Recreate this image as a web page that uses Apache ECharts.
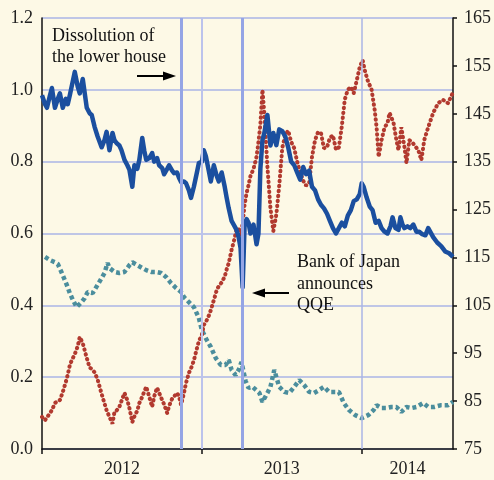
<!DOCTYPE html>
<html>
<head>
<meta charset="utf-8">
<script src="https://cdn.jsdelivr.net/npm/echarts@6/dist/echarts.min.js"></script>
<style>
  html, body { margin: 0; padding: 0; background: #fdf9e6; }
  #chart { width: 494px; height: 480px; }
</style>
</head>
<body>
<div id="chart"></div>
<script>
// x values are years since 1 Jan 2012
const blueT = [0,.019,.031,.050,.062,.081,.099,.112,.130,.149,.161,.174,.186,.205,.224,.236,.255,.280,.298,.311,
  .329,.348,.373,.391,.404,.422,.441,.453,.466,.484,.497,.516,.534,.547,.565,.578,.596,.609,.627,.640,
  .652,.671,.689,.702,.720,.733,.752,.764,.783,.795,.814,.826,.845,.857,.870,.888,.901,.919,.932,.950,
  .969,.981,1.000,1.012,1.025,1.043,1.056,1.075,1.093,1.106,1.124,1.143,1.155,1.168,1.186,1.205,1.217,1.230,1.242,1.255,
  1.267,1.280,1.292,1.304,1.323,1.342,1.354,1.366,1.379,1.391,1.410,1.429,1.447,1.466,1.484,1.503,1.522,1.540,1.559,1.578,
  1.596,1.615,1.634,1.652,1.671,1.689,1.708,1.727,1.745,1.764,1.783,1.801,1.820,1.839,1.857,1.876,1.894,1.913,1.932,1.950,
  1.969,1.988,2.000,2.012,2.031,2.050,2.068,2.087,2.106,2.124,2.143,2.161,2.180,2.193,2.211,2.230,2.242,2.255,2.267,2.286,
  2.304,2.323,2.342,2.360,2.379,2.398,2.416,2.447,2.472,2.497,2.522,2.547,2.571];
const blueV = [0.985,0.96,0.95,0.985,1.005,0.95,0.975,0.99,0.95,0.975,0.96,0.985,0.98,1.05,1.008,0.99,1.03,0.95,0.935,0.93,
  0.897,0.87,0.84,0.86,0.883,0.832,0.88,0.86,0.852,0.845,0.832,0.805,0.79,0.777,0.73,0.79,0.78,0.805,0.866,0.83,
  0.805,0.81,0.824,0.80,0.81,0.79,0.782,0.765,0.78,0.79,0.775,0.768,0.77,0.755,0.743,0.745,0.74,0.72,0.699,0.73,
  0.77,0.796,0.80,0.832,0.815,0.775,0.745,0.79,0.76,0.745,0.77,0.73,0.70,0.67,0.635,0.62,0.61,0.59,0.56,0.45,
  0.62,0.64,0.63,0.60,0.625,0.57,0.60,0.78,0.86,0.88,0.93,0.845,0.88,0.846,0.89,0.885,0.87,0.84,0.80,0.79,
  0.77,0.75,0.785,0.765,0.775,0.73,0.72,0.695,0.68,0.67,0.655,0.635,0.615,0.60,0.615,0.63,0.62,0.65,0.665,0.69,
  0.695,0.71,0.74,0.73,0.70,0.675,0.665,0.63,0.635,0.615,0.605,0.60,0.62,0.645,0.615,0.61,0.645,0.625,0.615,0.62,
  0.615,0.625,0.605,0.605,0.598,0.595,0.615,0.59,0.575,0.565,0.55,0.545,0.535];

const redT = [0,.019,.031,.050,.062,.081,.099,.112,.130,.149,.161,.174,.186,.205,.224,.236,.255,.280,.298,.311,
  .329,.348,.373,.391,.404,.422,.441,.453,.466,.484,.497,.516,.534,.547,.565,.578,.596,.609,.627,.640,
  .652,.671,.689,.702,.720,.733,.752,.764,.783,.795,.814,.826,.845,.857,.870,.888,.901,.919,.932,.950,
  .969,.981,1.000,1.012,1.025,1.043,1.056,1.075,1.093,1.106,1.124,1.143,1.155,1.168,1.186,1.205,1.217,1.230,1.242,1.255,
  1.267,1.280,1.292,1.304,1.323,1.342,1.354,1.366,1.379,1.391,1.410,1.429,1.447,1.466,1.484,1.503,1.522,1.540,1.559,1.578,
  1.596,1.615,1.634,1.652,1.671,1.689,1.708,1.727,1.745,1.764,1.783,1.801,1.820,1.839,1.857,1.876,1.894,1.913,1.932,1.950,
  1.969,1.988,2.006,2.019,2.037,2.062,2.081,2.093,2.106,2.124,2.143,2.161,2.174,2.199,2.217,2.230,2.248,2.267,2.280,2.298,
  2.317,2.329,2.354,2.373,2.391,2.416,2.447,2.478,2.509,2.540,2.571];
const redV = [81.7,81.0,81.3,82.5,83.1,84.6,85.0,85.2,86.9,89.0,90.5,92.5,93.5,94.8,96.5,98.4,97.1,94.0,92.0,91.7,
  91.0,89.5,86.5,84.5,83.1,81.7,80.3,82.7,83.0,83.8,85.0,86.7,85.2,83.5,80.6,81.8,83.0,84.6,85.9,87.0,
  88.0,85.9,83.8,86.0,87.8,86.7,85.2,84.3,82.5,84.0,85.5,85.9,86.7,86.0,84.2,86.7,88.8,90.9,91.8,93.5,
  96.0,97.5,98.8,100.9,101.5,102.8,104.0,106.1,108.2,109.0,109.8,111.0,112.5,113.8,116.6,119.0,121.0,121.0,119.7,122.0,
  126.0,128.5,130.1,132.0,133.5,136.0,139.1,142.7,150.0,145.0,134.0,125.3,120.5,124.0,130.0,137.9,140.6,141.5,139.1,137.8,
  135.0,132.8,131.0,130.0,130.5,136.0,139.5,141.2,141.0,137.8,138.0,140.0,140.5,137.5,138.0,142.5,148.0,150.0,150.6,149.3,
  152.0,154.8,156.2,154.1,152.0,150.0,145.8,142.2,136.0,139.5,142.2,143.0,145.2,143.1,139.5,137.4,142.2,138.1,134.7,139.5,
  139.0,138.9,137.4,135.3,139.5,142.2,145.2,147.2,147.9,147.2,149.5];

const tealT = [.019,.050,.081,.099,.124,.155,.174,.193,.217,.248,.267,.286,.317,.348,.373,.391,.410,.422,.453,.484,
  .516,.547,.565,.596,.627,.652,.683,.714,.745,.776,.807,.839,.870,.888,.919,.950,.981,1.000,1.031,1.056,
  1.087,1.118,1.149,1.168,1.186,1.211,1.230,1.248,1.273,1.292,1.317,1.360,1.379,1.410,1.429,1.453,1.484,1.516,1.547,1.578,
  1.609,1.640,1.671,1.702,1.733,1.764,1.795,1.826,1.857,1.888,1.919,1.957,2.000,2.043,2.075,2.093,2.124,2.155,2.186,2.217,
  2.248,2.280,2.311,2.342,2.385,2.416,2.453,2.497,2.540,2.571];
const tealV = [0.535,0.526,0.52,0.515,0.49,0.457,0.434,0.415,0.395,0.409,0.42,0.437,0.434,0.457,0.476,0.49,0.518,0.504,0.493,0.49,
  0.493,0.512,0.52,0.512,0.504,0.498,0.493,0.493,0.49,0.479,0.462,0.448,0.437,0.423,0.409,0.395,0.365,0.331,0.303,0.284,
  0.253,0.234,0.234,0.248,0.22,0.206,0.22,0.242,0.19,0.17,0.173,0.156,0.131,0.156,0.173,0.22,0.173,0.159,0.156,0.173,
  0.192,0.178,0.159,0.156,0.164,0.173,0.159,0.159,0.159,0.128,0.109,0.095,0.086,0.095,0.109,0.122,0.114,0.114,0.117,0.117,
  0.103,0.117,0.114,0.117,0.128,0.117,0.117,0.122,0.122,0.131];

// axis ticks / labels
const yearTicks = [0, 1, 2];
const yearLabelPos = [0.5, 1.5, 2.286];
const yearLabels = ['2012', '2013', '2014'];
const rightTicks = [75, 85, 95, 105, 115, 125, 135, 145, 155, 165];
// Nov 2012 dissolution, Apr 2013 QQE
const eventT = [0.870, 1.255];

const font = 'Liberation Serif';
const zip = (t, v) => t.map((x, i) => [x, v[i]]);

let chartObj = echarts.init(document.getElementById('chart'));

chartObj.setOption({
  animation: false,
  backgroundColor: '#fdf9e6',
  grid: { left: 42, right: 38, top: 18, bottom: 31 },
  xAxis: {
    type: 'value', min: 0, max: 2.571,
    axisLine: { show: true, lineStyle: { color: '#111', width: 1.5 } },
    axisTick: { show: true, customValues: yearTicks, length: 5, lineStyle: { color: '#111', width: 1.5 } },
    axisLabel: {
      customValues: yearLabelPos,
      formatter: v => yearLabels[yearLabelPos.indexOf(v)],
      color: '#222', fontFamily: font, fontSize: 18, margin: 11
    },
    splitLine: { show: false }
  },
  yAxis: [
    {
      type: 'value', min: 0, max: 1.2, interval: 0.2,
      axisLine: { show: true, lineStyle: { color: '#111', width: 1.5 } },
      axisTick: { show: false },
      axisLabel: { formatter: v => v.toFixed(1), color: '#222', fontFamily: font, fontSize: 18, margin: 9 },
      splitLine: { show: true, lineStyle: { color: '#aab4e6', width: 1.5 } }
    },
    {
      type: 'value', min: 75, max: 165, position: 'right',
      axisLine: { show: true, lineStyle: { color: '#111', width: 1.5 } },
      axisTick: { show: true, customValues: rightTicks, length: 4, lineStyle: { color: '#111', width: 1.5 } },
      axisLabel: { customValues: rightTicks, color: '#222', fontFamily: font, fontSize: 18, margin: 11 },
      splitLine: { show: false }
    }
  ],
  series: [
    {
      name: 'lines', type: 'line', data: [], z: 1,
      markLine: {
        silent: true, symbol: ['none', 'none'], label: { show: false }, animation: false,
        data: [
          { xAxis: yearTicks[1], lineStyle: { color: '#bcc3ec', width: 2, type: 'solid' } },
          { xAxis: yearTicks[2], lineStyle: { color: '#aab4e6', width: 1.5, type: 'solid' } },
          { xAxis: eventT[0], lineStyle: { color: '#95a5e5', width: 3, type: 'solid' } },
          { xAxis: eventT[1], lineStyle: { color: '#95a5e5', width: 3, type: 'solid' } }
        ]
      }
    },
    {
      name: 'teal', type: 'line', yAxisIndex: 0, z: 2,
      data: zip(tealT, tealV), symbol: 'none',
      lineStyle: { color: '#4b8e9d', width: 4.5, type: [4, 3], cap: 'butt' }
    },
    {
      name: 'red', type: 'line', yAxisIndex: 1, z: 3,
      data: zip(redT, redV), symbol: 'none',
      lineStyle: { color: '#b23a2f', width: 4, type: [0.5, 4.5], cap: 'round' }
    },
    {
      name: 'blue', type: 'line', yAxisIndex: 0, z: 4,
      data: zip(blueT, blueV), symbol: 'none',
      lineStyle: { color: '#1b4f9f', width: 4.5, join: 'round' }
    }
  ],
  graphic: [
    { type: 'text', x: 52, y: 36.5, z: 10, style: { text: 'Dissolution of', font: '18px "Liberation Serif"', fill: '#111', verticalAlign: 'middle' } },
    { type: 'text', x: 52, y: 57, z: 10, style: { text: 'the lower house', font: '18px "Liberation Serif"', fill: '#111', verticalAlign: 'middle' } },
    { type: 'line', z: 10, shape: { x1: 137, y1: 76, x2: 166, y2: 76 }, style: { stroke: '#000', lineWidth: 2 } },
    { type: 'polygon', z: 10, shape: { points: [[176, 76], [163, 71.5], [163, 80.5]] }, style: { fill: '#000' } },
    { type: 'text', x: 297, y: 262, z: 10, style: { text: 'Bank of Japan', font: '18px "Liberation Serif"', fill: '#111', verticalAlign: 'middle' } },
    { type: 'text', x: 297, y: 284, z: 10, style: { text: 'announces', font: '18px "Liberation Serif"', fill: '#111', verticalAlign: 'middle' } },
    { type: 'text', x: 297, y: 305, z: 10, style: { text: 'QQE', font: '18px "Liberation Serif"', fill: '#111', verticalAlign: 'middle' } },
    { type: 'line', z: 10, shape: { x1: 289, y1: 293, x2: 262, y2: 293 }, style: { stroke: '#000', lineWidth: 2 } },
    { type: 'polygon', z: 10, shape: { points: [[252, 293], [265, 288.5], [265, 297.5]] }, style: { fill: '#000' } }
  ]
});
</script>
</body>
</html>
